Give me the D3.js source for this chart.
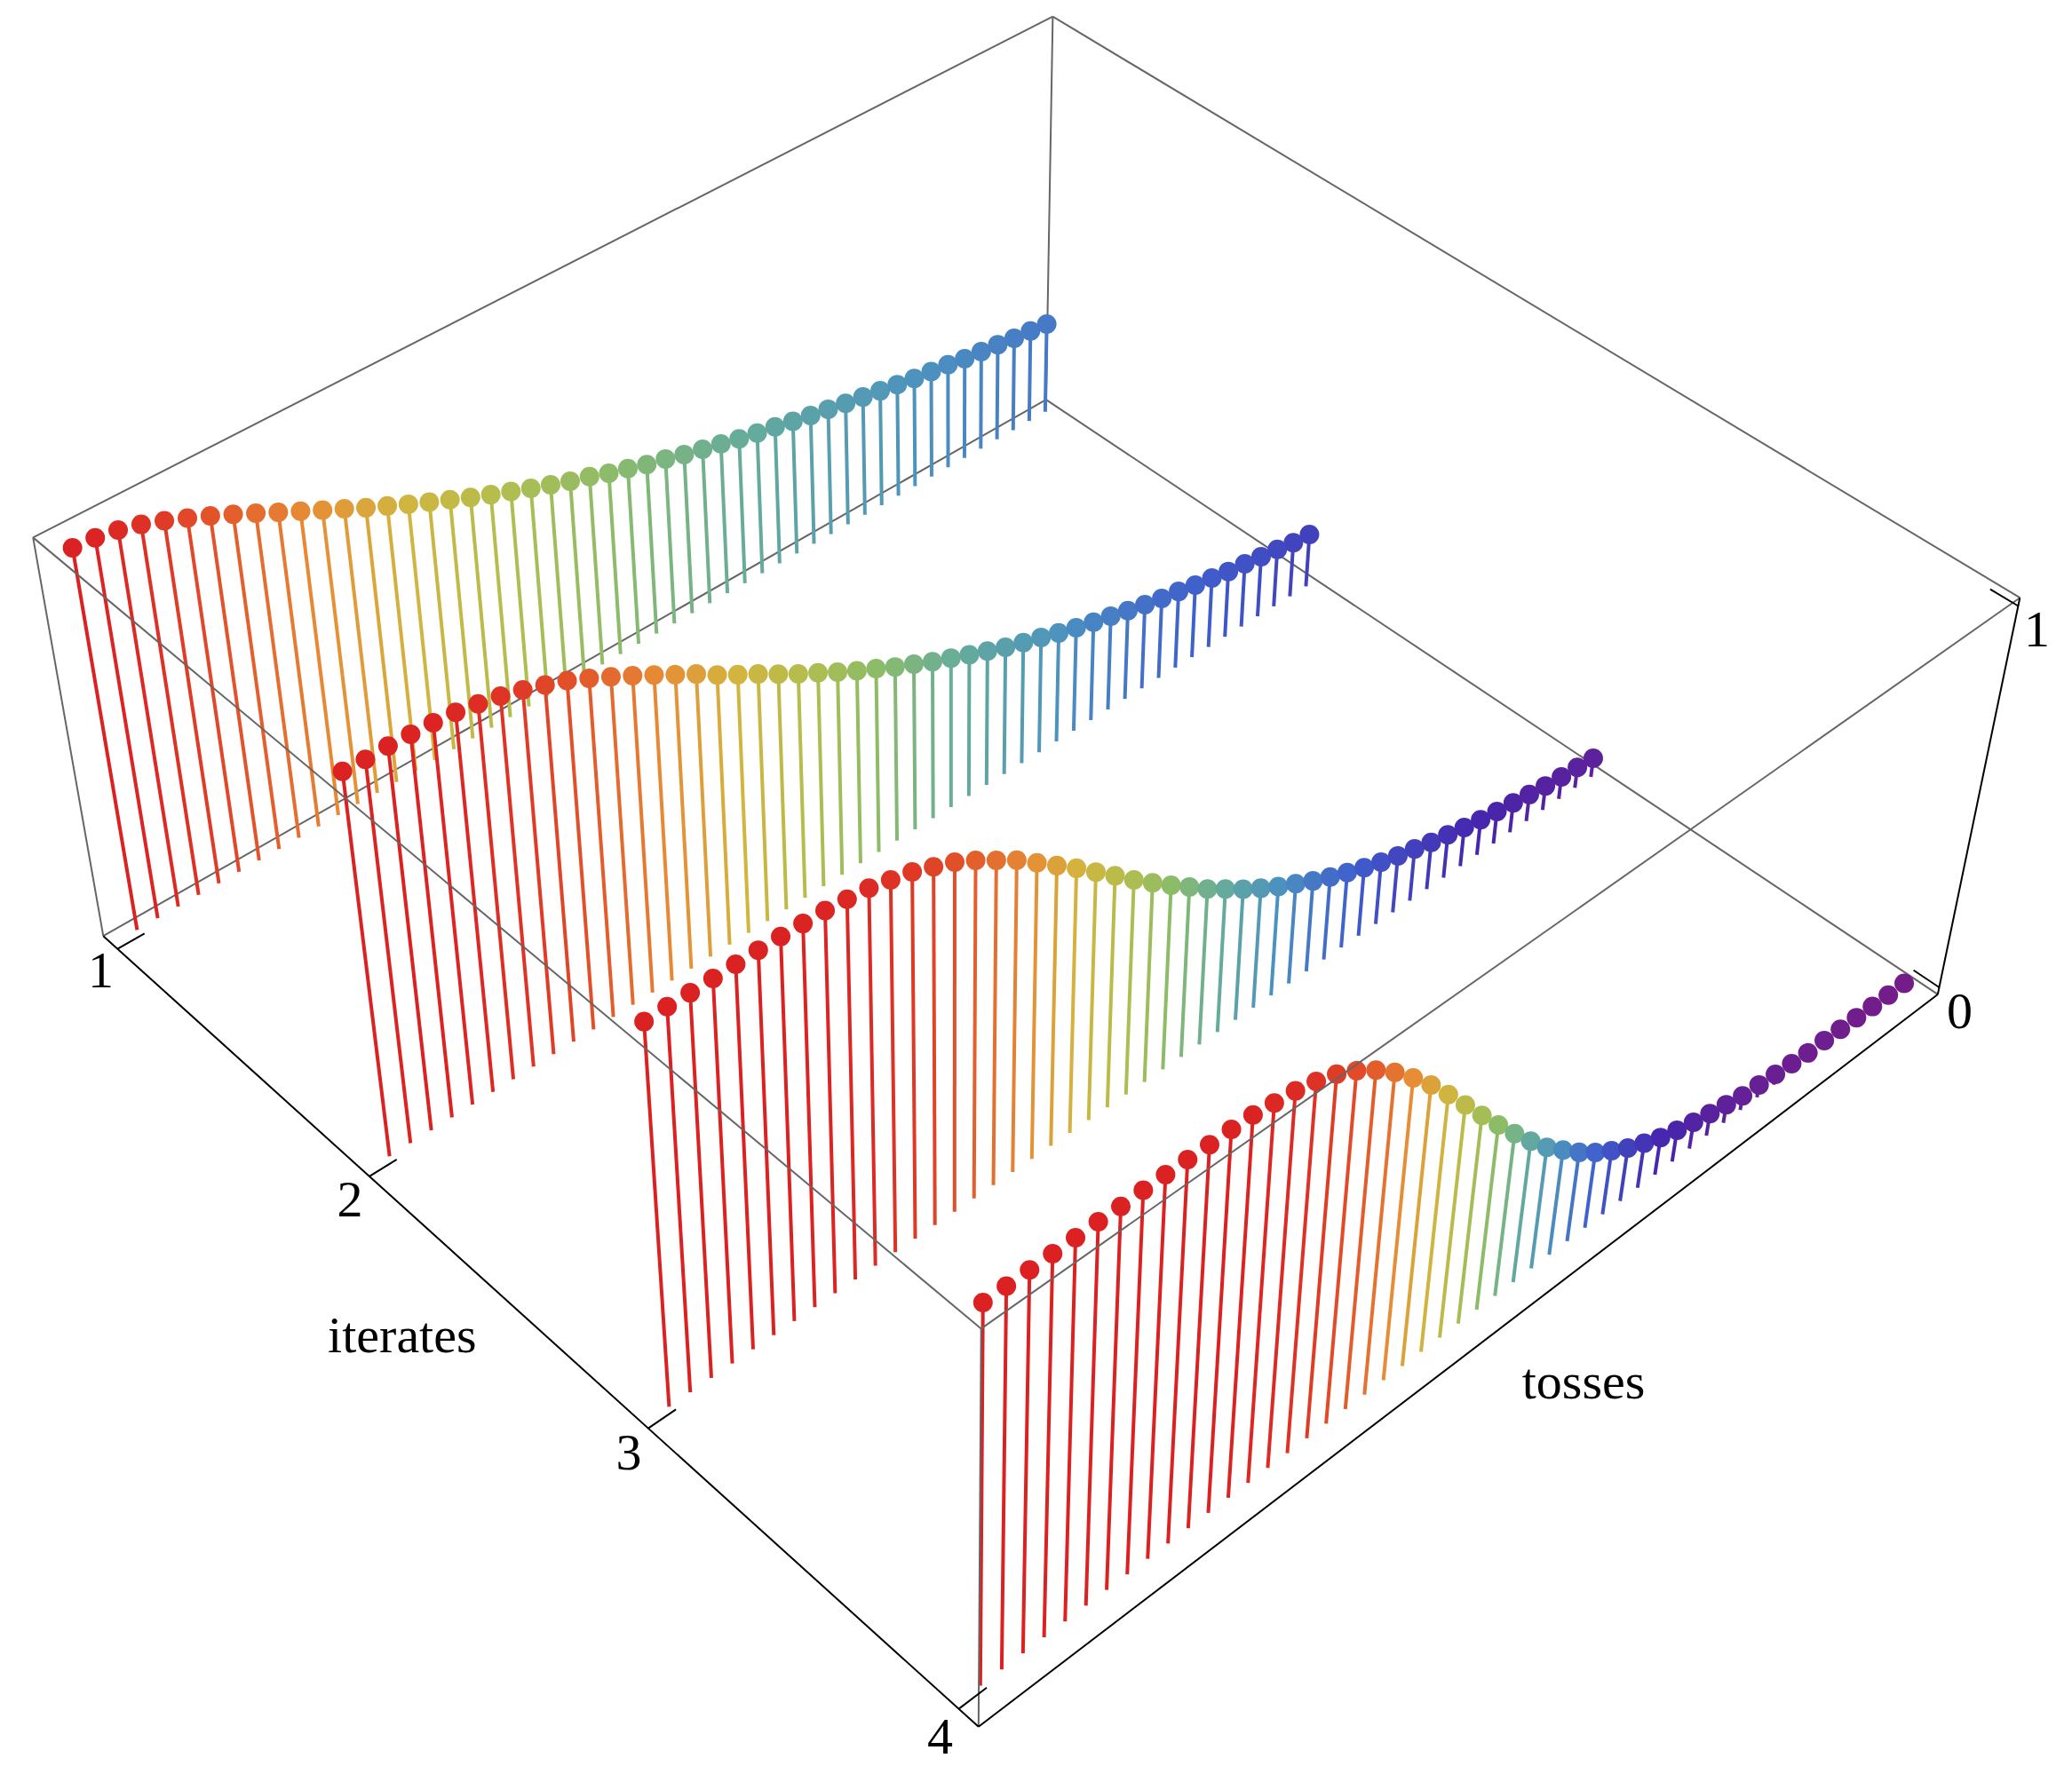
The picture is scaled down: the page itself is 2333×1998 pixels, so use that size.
<!DOCTYPE html>
<html>
<head>
<meta charset="utf-8">
<script src="https://cdn.jsdelivr.net/npm/d3@7"></script>
<style>
  body { margin: 0; background: #fff; }
  svg { display: block; }
  text { font-family: "Liberation Serif", serif; fill: #000; }
</style>
</head>
<body>
<div id="chart"></div>
<script>
// values, one array per iterate, toss 0 to 50
const tosses = d3.range(0, 51);
const iterates = [1, 2, 3, 4];
const iterate1 = [.998, .994, .985, .971, .952, .931, .909, .885, .860, .835, .810, .785, .761, .736, .713, .690, .668, .647, .625, .605, .586, .567, .549, .531, .516,
    .498, .483, .467, .455, .440, .427, .415, .402, .391, .381, .370, .359, .350, .340, .331, .322, .313, .304, .297, .290, .281, .275, .269, .261, .256, .250];
const iterate2 = [.999, .997, .998, .996, .993, .988, .978, .967, .952, .934, .915, .891, .865, .838, .810, .781, .753, .721, .692, .664, .634, .605, .578, .550, .524,
    .500, .475, .453, .430, .410, .389, .370, .351, .334, .319, .302, .287, .273, .261, .247, .235, .223, .214, .203, .194, .184, .177, .169, .161, .152, .147];
const iterate3 = [.999, 1.000, .999, .999, .999, .999, .998, .996, .994, .988, .982, .969, .956, .936, .915, .887, .855, .823, .784, .745, .706, .664, .622, .579, .539,
    .500, .463, .425, .392, .359, .329, .301, .276, .251, .229, .209, .190, .173, .158, .145, .131, .120, .109, .099, .090, .083, .075, .068, .062, .058, .053];
const iterate4 = [1.000, 1.000, 1.000, 1.000, 1.000, 1.000, .999, 1.000, 1.000, .999, .998, .998, .996, .989, .982, .969, .951, .924, .890, .849, .800, .747, .687, .625,
    .562, .501, .442, .386, .333, .289, .246, .209, .177, .148, .125, .104, .088, .074, .062, .051, .040, .035, .029, .024, .019, .019, .016, .014, .011, .009, .008];
const series = [iterate1, iterate2, iterate3, iterate4];
const zTicks = [0, 1];
const rainbowColors = ["#781c86", "#4526ae", "#3f5fcc", "#4c92bf", "#66ac9a", "#8dbc68", "#b4bd4d", "#d3b43e", "#e68d35", "#e3582b", "#db2122"];

const w = 2333;
const h = 1998;

// box corners on screen [toss, iterate, height, x, y], the view is fitted to them
const boxCorners = [
    [0, 0, 0, 115.7, 1053.6], [0, 0, 1, 37.7, 605.7],
    [0, 1, 0, 1102, 1944.6], [0, 1, 1, 1104.7, 1496.9],
    [1, 1, 0, 2181.7, 1120], [1, 1, 1, 2274.3, 672.9],
    [1, 0, 0, 1178.3, 450.7], [1, 0, 1, 1185, 18.3]
];

// least squares fit of the 3x4 camera matrix
function fitCamera(corners) {
    const rows = [], rhs = [];
    corners.forEach(([X, Y, Z, x, y]) => {
        x /= 1000; y /= 1000;
        rows.push([X, Y, Z, 1, 0, 0, 0, 0, -x * X, -x * Y, -x * Z]); rhs.push(x);
        rows.push([0, 0, 0, 0, X, Y, Z, 1, -y * X, -y * Y, -y * Z]); rhs.push(y);
    });
    const n = 11;
    const A = d3.range(n).map(i => d3.range(n + 1).map(j => d3.sum(rows, (r, k) => r[i] * (j < n ? r[j] : rhs[k]))));
    for (let i = 0; i < n; i++) {
        let p = i;
        for (let r = i; r < n; r++) if (Math.abs(A[r][i]) > Math.abs(A[p][i])) p = r;
        [A[i], A[p]] = [A[p], A[i]];
        for (let r = 0; r < n; r++) {
            if (r === i) continue;
            const f = A[r][i] / A[i][i];
            for (let c = i; c <= n; c++) A[r][c] -= f * A[i][c];
        }
    }
    return A.map((r, i) => r[n] / r[i]);
}
const m = fitCamera(boxCorners);

// box coordinates to screen
function project(u, v, z) {
    const d = m[8] * u + m[9] * v + m[10] * z + 1;
    return [1000 * (m[0] * u + m[1] * v + m[2] * z + m[3]) / d, 1000 * (m[4] * u + m[5] * v + m[6] * z + m[7]) / d];
}

// scales, each range has 2% padding inside the box
const tossScale = d3.scaleLinear().domain([-1, 51]).range([0, 1]);
const iterScale = d3.scaleLinear().domain([0.94, 4.06]).range([0, 1]);
const zScale = d3.scaleLinear().domain([-0.02, 1.02]).range([0, 1]);
const color = d3.scaleLinear().domain(d3.range(11).map(d => d / 10)).range(rainbowColors).clamp(true);

const svg = d3.select("#chart").append("svg").attr("width", w).attr("height", h);

function edge(parent, a, b, stroke, width) {
    const p = project(...a), q = project(...b);
    parent.append("line")
        .attr("x1", p[0]).attr("y1", p[1])
        .attr("x2", q[0]).attr("y2", q[1])
        .attr("stroke", stroke).attr("stroke-width", width);
}

// back edges of the box go under the stems
const backEdges = [
    [[0, 0, 0], [1, 0, 0]], [[1, 0, 0], [1, 1, 0]], [[1, 0, 0], [1, 0, 1]],
    [[0, 0, 1], [1, 0, 1]], [[1, 0, 1], [1, 1, 1]], [[0, 0, 0], [0, 0, 1]]
];
const back = svg.append("g");
backEdges.forEach(e => edge(back, e[0], e[1], "#666", 2));

// one group per iterate, stems first and then the dots
series.forEach((values, k) => {
    const v = iterScale(iterates[k]);
    const rows = tosses.map((t, j) => ({ toss: t, value: values[j] }));
    const g = svg.append("g").attr("class", "iterate");

    g.selectAll("line")
        .data(rows)
        .enter()
        .append("line")
        .attr("x1", d => project(tossScale(d.toss), v, zScale(0))[0])
        .attr("y1", d => project(tossScale(d.toss), v, zScale(0))[1])
        .attr("x2", d => project(tossScale(d.toss), v, zScale(d.value))[0])
        .attr("y2", d => project(tossScale(d.toss), v, zScale(d.value))[1])
        .attr("stroke", d => color(d.value))
        .attr("stroke-width", 4);

    g.selectAll("circle")
        .data(rows)
        .enter()
        .append("circle")
        .attr("cx", d => project(tossScale(d.toss), v, zScale(d.value))[0])
        .attr("cy", d => project(tossScale(d.toss), v, zScale(d.value))[1])
        .attr("r", 11)
        .attr("fill", d => color(d.value));
});

// front edges sit on top
const frontEdges = [
    [[0, 0, 1], [0, 1, 1]], [[0, 1, 1], [1, 1, 1]], [[0, 1, 0], [0, 1, 1]]
];
const front = svg.append("g");
frontEdges.forEach(e => edge(front, e[0], e[1], "#666", 2));

// axes and ticks
const axes = svg.append("g");
edge(axes, [0, 0, 0], [0, 1, 0], "#000", 2);
edge(axes, [0, 1, 0], [1, 1, 0], "#000", 2);
edge(axes, [1, 1, 0], [1, 1, 1], "#000", 2);
const tickLen = 0.025;
iterates.forEach(d => edge(axes, [0, iterScale(d), 0], [tickLen, iterScale(d), 0], "#000", 2));
zTicks.forEach(d => edge(axes, [1, 1, zScale(d)], [1, 1 - tickLen, zScale(d)], "#000", 2));

// labels, offset from the tick they belong to
function label(s, pos, dx, dy) {
    const p = project(...pos);
    svg.append("text")
        .attr("x", p[0] + dx).attr("y", p[1] + dy)
        .attr("text-anchor", "middle")
        .attr("font-size", 58)
        .text(s);
}
const iterOffsets = [[-19, 43], [-22, 45], [-22, 46], [-21, 50]];
iterates.forEach((d, i) => label(String(d), [0, iterScale(d), 0], iterOffsets[i][0], iterOffsets[i][1]));
const zOffsets = [[23, 46], [21, 45]];
zTicks.forEach((d, i) => label(String(d), [1, 1, zScale(d)], zOffsets[i][0], zOffsets[i][1]));
label("iterates", [0, 0.5, 0], -116, 60);
label("tosses", [0.5, 1, 0], 99, 75);
</script>
</body>
</html>
